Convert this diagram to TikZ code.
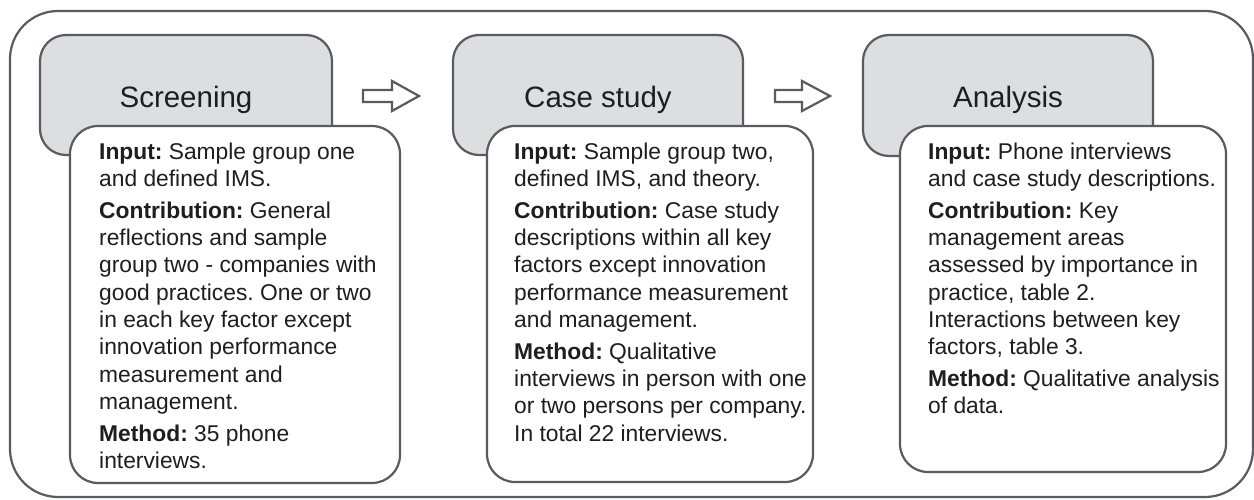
\documentclass[tikz,border=0pt]{standalone}
\usepackage{fontspec}
\setmainfont{Liberation Sans}
\definecolor{edge}{HTML}{585B61}
\definecolor{stagefill}{HTML}{DDDEE0}
\definecolor{ink}{HTML}{1E1E1E}

\begin{document}
\begin{tikzpicture}[x=1pt,y=-1pt,
  frame/.style={draw=edge,line width=2.2pt,rounded corners=48pt},
  stagebox/.style={draw=edge,fill=stagefill,line width=2.2pt,rounded corners=26pt,inner sep=0pt},
  infobox/.style={draw=edge,fill=white,line width=2.2pt,rounded corners=28pt,inner sep=0pt},
  title/.style={font=\fontsize{29.5}{34}\selectfont,text=ink,anchor=base,inner sep=0pt},
  body/.style={font=\fontsize{22.8}{27.3}\selectfont\frenchspacing,text=ink,align=left,anchor=north west,inner sep=0pt},
  flow/.style={draw=edge,fill=white,line width=2.2pt,line join=miter}]
\useasboundingbox (0,0) rectangle (1254,500);

% outer frame around the three stages
\draw[frame] (10,11) rectangle (1253,497);

% stage 1: screening
\node[stagebox,minimum width=292,minimum height=120] (g1) at (186,95) {};
\node[title] (t1) at (186,108) {Screening};
\node[infobox,minimum width=330,minimum height=357] (w1) at (235,304.5) {};
\node[body] (b1) at (99,141) {\rule{0pt}{18pt}\textbf{Input:} Sample group one\\
and defined IMS.\\[4.5pt]
\textbf{Contribution:} General\\
reflections and sample\\
group two - companies with\\
good practices. One or two\\
in each key factor except\\
innovation performance\\
measurement and\\
management.\\[4.5pt]
\textbf{Method:} 35 phone\\
interviews.};

% stage 2: case study
\node[stagebox,minimum width=290,minimum height=120] (g2) at (598,95) {};
\node[title] (t2) at (598,108) {Case study};
\node[infobox,minimum width=326,minimum height=356] (w2) at (650,304) {};
\node[body] (b2) at (514,141) {\rule{0pt}{18pt}\textbf{Input:} Sample group two,\\
defined IMS, and theory.\\[4.5pt]
\textbf{Contribution:} Case study\\
descriptions within all key\\
factors except innovation\\
performance measurement\\
and management.\\[4.5pt]
\textbf{Method:} Qualitative\\
interviews in person with one\\
or two persons per company.\\
In total 22 interviews.};

% stage 3: analysis
\node[stagebox,minimum width=290,minimum height=121] (g3) at (1008,95.5) {};
\node[title] (t3) at (1008,108) {Analysis};
\node[infobox,minimum width=326,minimum height=346] (w3) at (1063,299) {};
\node[body] (b3) at (928,141) {\rule{0pt}{18pt}\textbf{Input:} Phone interviews\\
and case study descriptions.\\[4.5pt]
\textbf{Contribution:} Key\\
management areas\\
assessed by importance in\\
practice, table 2.\\
Interactions between key\\
factors, table 3.\\[4.5pt]
\textbf{Method:} Qualitative analysis\\
of data.};

% hollow block arrows between the stages
\draw[flow,shift={(363,96)}] (0,-6) -- (29,-6) -- (29,-15) -- (56,0) -- (29,15) -- (29,6) -- (0,6) -- cycle;
\draw[flow,shift={(775,96)}] (0,-6) -- (27,-6) -- (27,-15) -- (55,0) -- (27,15) -- (27,6) -- (0,6) -- cycle;
\end{tikzpicture}
\end{document}
